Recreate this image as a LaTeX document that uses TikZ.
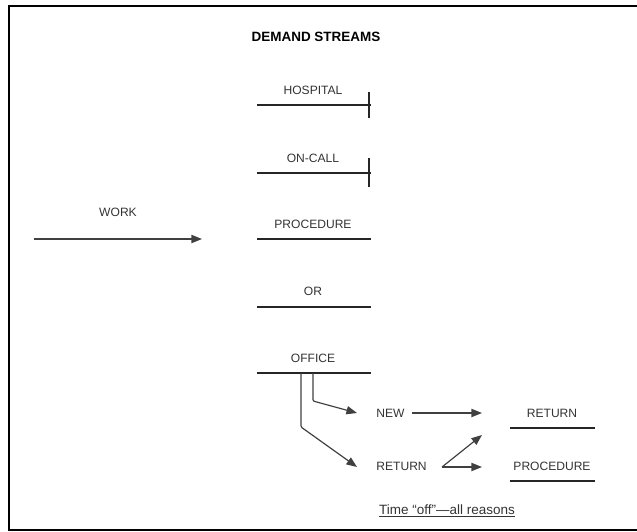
\documentclass[tikz,border=0pt]{standalone}
\usepackage{fontspec}
\setmainfont{Liberation Sans}
\usetikzlibrary{arrows.meta,positioning,calc}

\begin{document}
\begin{tikzpicture}[
  x=0.03cm, y=-0.03cm,
  lbl/.style={font=\fontsize{10.3}{12}\selectfont, text=black!80, inner sep=1pt},
  bar/.style={line width=1.3pt, black!85},
  flow/.style={line width=1pt, black!75, -{Triangle[length=9pt,width=7pt]}},
  frame/.style={line width=2.2pt},
]
\useasboundingbox (0,0) rectangle (637,532);

% Frame (open on the right)
\draw[frame] (637,6) -- (9,6) -- (9,530) -- (637,530);

% Title
\node[font=\bfseries\fontsize{11.5}{14}\selectfont] (title) at (316,37) {DEMAND STREAMS};

% Demand streams (label, line below)
\foreach \n/\ly/\y/\t in {hosp/90/105/HOSPITAL, oncall/158/173/ON-CALL,
    proc/224/239/PROCEDURE, or/291/307/OR, office/358/373/OFFICE} {
  \node[lbl] (\n) at (313,\ly) {\t};
  \coordinate (\n-l) at (257,\y);
  \coordinate (\n-r) at (371,\y);
  \draw[bar] (\n-l) -- (\n-r);
}

% Stops on hospital and on-call
\draw[bar] (369,92) -- (369,118);
\draw[bar] (369,158) -- (369,187);

% Work input
\node[lbl] (work) at (118,212) {WORK};
\coordinate (work-in) at (34,239);
\coordinate (work-out) at (202,239);
\draw[flow] (work-in) -- (work-out);

% Office split
\node[lbl, anchor=west] (new) at (375,413) {NEW};
\node[lbl, anchor=west] (ret) at (375,466) {RETURN};
\draw[flow, rounded corners=1pt] (313,373) -- (313,401) -- (357,413);
\draw[flow, rounded corners=1pt] (301,373) -- (301,427) -- (357,467);

% Outcomes
\node[lbl] (out-ret) at (552,413) {RETURN};
\node[lbl] (out-proc) at (552,466) {PROCEDURE};
\draw[bar] (510,428) -- (595,428);
\draw[bar] (510,481) -- (595,481);

\coordinate (ret-fork) at (442,467);
\draw[flow] ([xshift=5pt]new.east) -- (482,413);
\draw[flow] (ret-fork) -- (482,435);
\draw[flow] (ret-fork) -- (482,467);

% Footnote
\node[font=\fontsize{11.5}{13}\selectfont, text=black!80] (note) at (447,511) {\underline{Time ``off''---all reasons}};

\end{tikzpicture}
\end{document}
